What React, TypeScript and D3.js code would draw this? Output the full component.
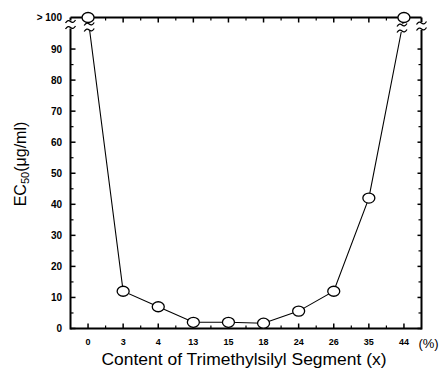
import React from "react";
import * as d3 from "d3";

const categories = ["0", "3", "4", "13", "15", "18", "24", "26", "35", "44"];
const ec50 = [100, 12, 7, 2, 2, 1.7, 5.6, 12, 42, 100];
const overRange = [true, false, false, false, false, false, false, false, false, true];
const yTicks = [0, 10, 20, 30, 40, 50, 60, 70, 80, 90];
const yMinor = [5, 15, 25, 35, 45, 55, 65, 75, 85];

const W = 443;
const H = 368;
const left = 70.5;
const right = 421.5;
const top = 17.5;
const bottom = 328.5;

function Tilde({ x, y }: { x: number; y: number }) {
  return (
    <path
      d={`M${x - 5},${y + 1.5} q2.5,-4 5,-1.5 t5,-1.5`}
      fill="none"
      stroke="#000"
      strokeWidth={1.3}
    />
  );
}

function Break({ x, y1, y2 }: { x: number; y1: number; y2: number }) {
  return (
    <g>
      <line x1={x} x2={x} y1={y1 - 1} y2={y2 + 1} stroke="#fff" strokeWidth={5} />
      <Tilde x={x} y={y1} />
      <Tilde x={x} y={y2} />
    </g>
  );
}

export default function App() {
  const x = d3.scalePoint<string>().domain(categories).range([left, right]).padding(0.5);
  const y = d3.scaleLinear().domain([0, 100]).range([bottom, 18]);
  const step = x.step();

  const pts = categories.map((c, i) => [x(c) as number, y(ec50[i])] as [number, number]);
  const line = d3.line<[number, number]>().x((d) => d[0]).y((d) => d[1]);

  const xMinor = categories.slice(0, -1).map((c) => (x(c) as number) + step / 2);

  // break positions along data lines
  const bx0 = (yy: number) => {
    const [ax, ay] = pts[0];
    const [bx, by] = pts[1];
    return ax + ((yy - ay) / (by - ay)) * (bx - ax);
  };
  const bxN = (yy: number) => {
    const [ax, ay] = pts[pts.length - 1];
    const [bx, by] = pts[pts.length - 2];
    return ax + ((yy - ay) / (by - ay)) * (bx - ax);
  };

  const font = "'Liberation Sans', Arial, Helvetica, sans-serif";

  return (
    <svg width={W} height={H} style={{ position: "absolute", left: 0, top: 0, background: "#fff" }} fontFamily={font}>
      <rect width={W} height={H} fill="#fff" />
      {/* frame */}
      <line x1={left} x2={right} y1={top} y2={top} stroke="#000" strokeWidth={2} />
      <line x1={left} x2={right} y1={bottom} y2={bottom} stroke="#000" strokeWidth={2} />
      <line x1={left} x2={left} y1={top} y2={bottom + 1} stroke="#000" strokeWidth={2} />
      <line x1={right} x2={right} y1={top} y2={bottom + 1} stroke="#000" strokeWidth={2} />

      {/* y ticks */}
      {yTicks.map((t) => (
        <g key={"y" + t}>
          <line x1={left} x2={left + 5} y1={y(t)} y2={y(t)} stroke="#000" strokeWidth={1.5} />
          <line x1={right} x2={right - 4} y1={y(t)} y2={y(t)} stroke="#000" strokeWidth={1.5} />
          <text x={62} y={y(t) + 3.5} fontSize={10} fontWeight="bold" textAnchor="end">
            {t}
          </text>
        </g>
      ))}
      {yMinor.map((t) => (
        <g key={"ym" + t}>
          <line x1={left} x2={left + 3} y1={y(t)} y2={y(t)} stroke="#000" strokeWidth={1.2} />
          <line x1={right} x2={right - 3} y1={y(t)} y2={y(t)} stroke="#000" strokeWidth={1.2} />
        </g>
      ))}
      <text x={62} y={top + 3.5} fontSize={10} fontWeight="bold" textAnchor="end">
        {"> 100"}
      </text>

      {/* x ticks */}
      {categories.map((c) => (
        <g key={"x" + c}>
          <line x1={x(c)} x2={x(c)} y1={bottom} y2={bottom - 5} stroke="#000" strokeWidth={1.5} />
          <line x1={x(c)} x2={x(c)} y1={top} y2={top + 5} stroke="#000" strokeWidth={1.5} />
          <text x={x(c)} y={344.5} fontSize={9} fontWeight="bold" textAnchor="middle">
            {c}
          </text>
        </g>
      ))}
      {xMinor.map((m, i) => (
        <g key={"xm" + i}>
          <line x1={m} x2={m} y1={bottom} y2={bottom - 3} stroke="#000" strokeWidth={1.2} />
          <line x1={m} x2={m} y1={top} y2={top + 3} stroke="#000" strokeWidth={1.2} />
        </g>
      ))}

      {/* axis breaks */}
      <Break x={left} y1={21.5} y2={27.5} />
      <Break x={right} y1={23} y2={29} />

      {/* data line */}
      <path d={line(pts) || ""} fill="none" stroke="#000" strokeWidth={1.1} />
      <Break x={bx0(27)} y1={24} y2={30} />
      <Break x={bxN(28)} y1={25} y2={31} />

      {pts.map((p, i) => (
        <ellipse key={"p" + i} cx={p[0]} cy={overRange[i] ? top : p[1]} rx={6} ry={5} fill="#fff" stroke="#000" strokeWidth={1.3} />
      ))}

      {/* labels */}
      <text x={428.5} y={348} fontSize={13} textAnchor="middle">
        (%)
      </text>
      <text x={244} y={365} fontSize={17} textAnchor="middle" textLength={285} lengthAdjust="spacingAndGlyphs">
        Content of Trimethylsilyl Segment (x)
      </text>
      <text transform={`translate(26,164) rotate(-90)`} fontSize={16} textAnchor="middle">
        EC<tspan fontSize={11} dy={3}>50</tspan>
        <tspan dy={-3}>(μg/ml)</tspan>
      </text>
    </svg>
  );
}
